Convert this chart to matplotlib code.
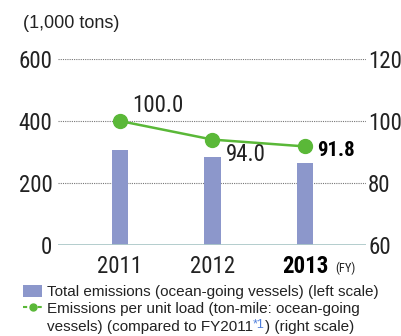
import matplotlib
matplotlib.use("Agg")
import matplotlib.pyplot as plt
from matplotlib import font_manager
from matplotlib.patches import Rectangle
from matplotlib.lines import Line2D

years = ["2011", "2012", "2013"]
total_emissions = [306, 285, 265]          # 1,000 tons (left scale)
per_unit = [100.0, 94.0, 91.8]             # index vs FY2011 (right scale)
per_unit_labels = ["100.0", "94.0", "91.8"]
left_ticks = [0, 200, 400, 600]
right_ticks = [60, 80, 100, 120]

names = {f.name for f in font_manager.fontManager.ttflist}
NARROW = "DejaVu Sans"
for cand in ["Roboto Condensed", "Archivo Narrow", "PT Sans Narrow",
             "Liberation Sans Narrow", "Arial Narrow", "Open Sans Condensed"]:
    if cand in names:
        NARROW = cand
        break
REG = "Liberation Sans" if "Liberation Sans" in names else "DejaVu Sans"

BAR = "#8c97cb"
GREEN = "#5ab838"
TXT = "#222222"

fig = plt.figure(figsize=(4.01, 3.36), dpi=100)
W, H = 401, 336
ax = fig.add_axes([58 / W, 1 - 245 / H, (366 - 58) / W, (245 - 59) / H])
ax2 = ax.twinx()

x = list(range(len(years)))
ax.set_zorder(1)
ax2.set_zorder(2)
ax.patch.set_visible(False)
ax2.patch.set_visible(False)

for y in left_ticks[1:]:
    ax.axhline(y, color="#777777", lw=0.8, ls=(0, (1, 1)), zorder=0)
ax.bar(x, total_emissions, width=0.18, color=BAR, zorder=2)
ax.axhline(0, color="#adc9c9", lw=2, zorder=3)

ax.set_xlim(-0.67, 2.66)
ax.set_ylim(0, 600)
ax2.set_ylim(60, 120)

ax2.plot(x, per_unit, color=GREEN, lw=1.8, marker="o", markersize=10, zorder=5, clip_on=False)

offsets = [(8.5, 11.5), (9.7, -11), (8.6, -2.6)]
for i, (v, lab, off) in enumerate(zip(per_unit, per_unit_labels, offsets)):
    bold = i == len(per_unit) - 1
    ax2.annotate(lab, (x[i], v), xytext=off, textcoords="offset points",
                 ha="left", va="center", family=NARROW,
                 fontsize=15 if bold else 16.5,
                 fontweight="bold" if bold else "normal",
                 color="#000000" if bold else TXT)

for a in (ax, ax2):
    for s in a.spines.values():
        s.set_visible(False)

ax.set_yticks(left_ticks)
ax.set_yticklabels([str(t) for t in left_ticks], family=NARROW, fontsize=16.5, color=TXT)
ax.tick_params(axis="y", length=0, pad=4)
ax2.set_yticks(right_ticks)
ax2.set_yticklabels([str(t) for t in right_ticks], family=NARROW, fontsize=16.5, color=TXT)
ax2.tick_params(axis="y", length=0, pad=1.5)

ax.set_xticks(x)
ax.set_xticklabels(years, family=NARROW, fontsize=16.5, color=TXT)
ax.get_xticklabels()[-1].set_fontweight("bold")
ax.get_xticklabels()[-1].set_color("#000000")
ax.tick_params(axis="x", length=0, pad=7)

# (FY)
fig.text(335 / W, 1 - 272 / H, "(FY)", family=NARROW, fontsize=9, color=TXT, va="baseline", ha="left")

# unit label
fig.text(23 / W, 1 - 28 / H, "(1,000 tons)", family=REG, fontsize=13, color=TXT, va="baseline", ha="left")

# legend
fig.patches.append(Rectangle((23 / W, 1 - 297 / H), 19 / W, 12 / H, transform=fig.transFigure,
                             facecolor=BAR, edgecolor="none"))
fig.text(47 / W, 1 - 296 / H, "Total emissions (ocean-going vessels) (left scale)",
         family=REG, fontsize=11, color=TXT, va="baseline", ha="left")
fig.lines.append(Line2D([23 / W, 43 / W], [1 - 307 / H] * 2, transform=fig.transFigure,
                        color=GREEN, lw=1.5, ls=(0, (2, 1.5))))
fig.lines.append(Line2D([33 / W], [1 - 307 / H], transform=fig.transFigure,
                        color=GREEN, marker="o", markersize=5, lw=0))
fig.text(47 / W, 1 - 313 / H, "Emissions per unit load (ton-mile: ocean-going",
         family=REG, fontsize=11, color=TXT, va="baseline", ha="left")
t1 = fig.text(47 / W, 1 - 331 / H, "vessels) (compared to FY2011",
              family=REG, fontsize=11, color=TXT, va="baseline", ha="left")
t2 = fig.text(0, 0, "*1", family=REG, fontsize=9, color="#4f7fdc", va="baseline", ha="left")
t3 = fig.text(0, 0, ") (right scale)", family=REG, fontsize=11, color=TXT, va="baseline", ha="left")
fig.canvas.draw()
r = fig.canvas.get_renderer()
bb = t1.get_window_extent(r)
t2.set_position((bb.x1 / W, 1 - 328 / H))
bb2 = t2.get_window_extent(r)
t3.set_position((bb2.x1 / W, 1 - 331 / H))

fig.savefig("out.png", dpi=100)
